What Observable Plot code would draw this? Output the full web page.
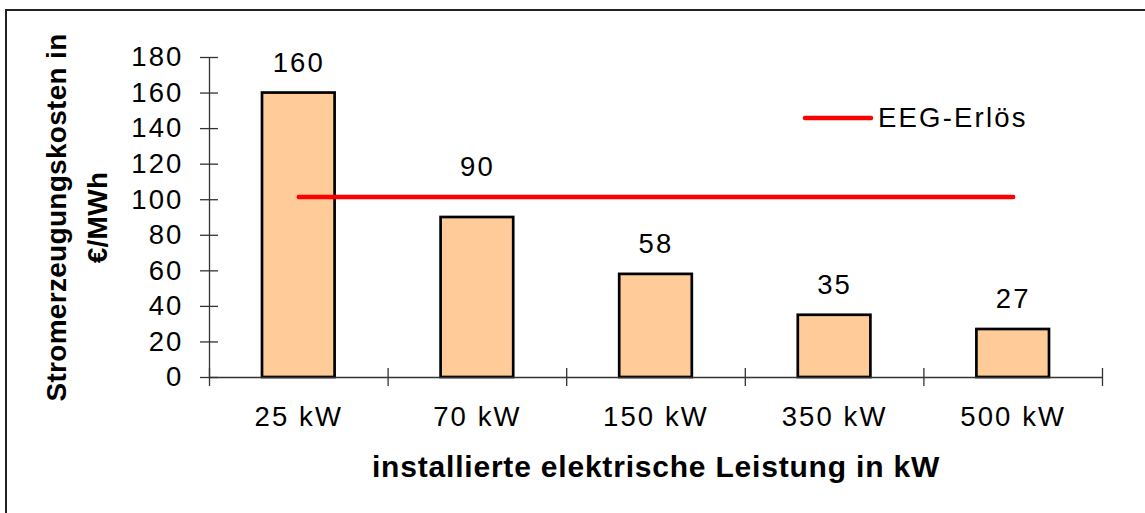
<!DOCTYPE html>
<html>
<head>
<meta charset="utf-8">
<script src="https://cdn.jsdelivr.net/npm/d3@7"></script>
<script src="https://cdn.jsdelivr.net/npm/@observablehq/plot@0.6"></script>
<style>
  html, body { margin: 0; padding: 0; background: #fff; }
  body { width: 1145px; height: 513px; overflow: hidden; position: relative; font-family: "Liberation Sans", Arial, sans-serif; }
  #frame { position: absolute; left: 5px; top: 9px; width: 1200px; height: 600px; border-left: 2px solid #222; border-top: 2px solid #222; pointer-events: none; }
  #chart { position: absolute; left: 0; top: 0; }
  #chart svg text { letter-spacing: 2.1px; }
  #legend { position: absolute; left: 801px; top: 102px; display: flex; align-items: center; font-size: 27.5px; letter-spacing: 2.2px; color: #000; }
  #legend svg { margin-right: 3px; }
</style>
</head>
<body>
<div id="chart"></div>
<div id="frame"></div>
<div id="legend"><svg width="74" height="8"><line x1="4" y1="4" x2="70" y2="4" stroke="#ff0000" stroke-width="4.5" stroke-linecap="round"/></svg><span>EEG-Erlös</span></div>
<script>
const categories = ["25 kW", "70 kW", "150 kW", "350 kW", "500 kW"];
const costs = [160, 90, 58, 35, 27];
const eegErloes = 101.5;
const yTicks = [0, 20, 40, 60, 80, 100, 120, 140, 160, 180];
const yTitle = "Stromerzeugungskosten in\n€/MWh";
const xTitle = "installierte elektrische Leistung in kW";

const data = categories.map((c, i) => ({category: c, i, value: costs[i], eeg: eegErloes}));
const bandEdges = d3.range(0, categories.length + 1);
const bandCenters = categories.map((c, i) => i + 0.5);
// labels whose normal position would collide with the EEG line are lifted
const collides = d => Math.abs(d.value + 17 - eegErloes) < 12;

const chart = Plot.plot({
  width: 1145,
  height: 513,
  marginLeft: 209,
  marginRight: 43,
  marginTop: 57,
  marginBottom: 136,
  style: {fontFamily: "'Liberation Sans', Arial, sans-serif", fontSize: "27.5px", color: "#000", background: "transparent"},
  x: {domain: [0, categories.length], label: null},
  y: {domain: [0, 180], label: null},
  marks: [
    Plot.rectY(data, {x1: d => d.i, x2: d => d.i + 1, y: "value", insetLeft: 53, insetRight: 53,
      fill: "#FFCC99", stroke: "#000", strokeWidth: 2.7}),
    Plot.ruleX([0], {y1: 0, y2: 180, stroke: "#333", strokeWidth: 1.3}),
    Plot.ruleY([0], {x1: 0, x2: categories.length, stroke: "#333", strokeWidth: 1.3}),
    Plot.axisY({ticks: yTicks, tickSize: 18, dx: 9, tickPadding: 17, stroke: "#333", strokeWidth: 1.3, fill: "#000", fontSize: 27.5}),
    Plot.axisX({ticks: bandEdges, tickSize: 18, dy: -9, tickFormat: () => "", stroke: "#333", strokeWidth: 1.3}),
    Plot.axisX({ticks: bandCenters, tickSize: 0, tickPadding: 29, tickFormat: d => categories[Math.floor(d)], fill: "#000", fontSize: 27.5}),
    Plot.lineY(data, {x: d => d.i + 0.5, y: "eeg", stroke: "#ff0000", strokeWidth: 4.5, strokeLinecap: "round"}),
    Plot.text(data.filter(d => !collides(d)), {x: d => d.i + 0.5, y: "value", text: d => String(d.value), dy: -30, lineAnchor: "middle", fill: "#000", fontSize: 27.5}),
    Plot.text(data.filter(collides), {x: d => d.i + 0.5, y: "value", text: d => String(d.value), dy: -50, lineAnchor: "middle", fill: "#000", fontSize: 27.5}),
    Plot.text([xTitle], {frameAnchor: "bottom", dy: 90, lineAnchor: "middle", fontWeight: "bold", fontSize: 30, fill: "#000"}),
    Plot.text([yTitle], {frameAnchor: "left", dx: -136, rotate: -90, textAnchor: "middle", lineAnchor: "middle", lineHeight: 1.46, fontWeight: "bold", fontSize: 28, fill: "#000"})
  ]
});
document.getElementById("chart").appendChild(chart);
// bold titles: their own tracking
d3.select(chart).selectAll("g[font-weight=bold] text").each(function() {
  const isRotated = (this.getAttribute("transform") || "").includes("rotate");
  this.style.letterSpacing = isRotated ? "0.3px" : "0.8px";
});
</script>
</body>
</html>
